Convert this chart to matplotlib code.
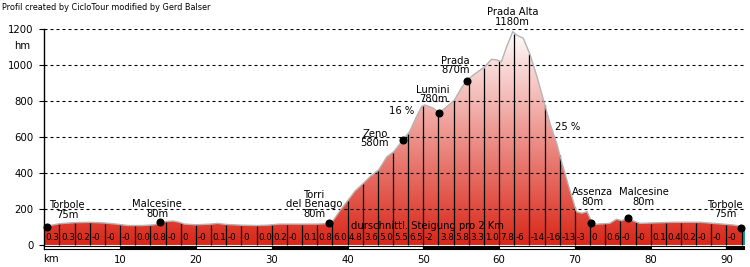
"""
Elevation profile Torbole - Prada Alta - Torbole (CicloTour style)
"""
# ======================================================================================================================
import numpy as np
import matplotlib
matplotlib.use('Agg')
import matplotlib.pyplot as plt
from matplotlib.colors import LinearSegmentedColormap
from matplotlib.patches import Polygon, Rectangle


# ======================================================================================================================
# Data
profile_km = [0, 1, 2, 4, 6, 8, 9.5, 11, 13, 14.5, 15.3, 16, 17, 17.8, 18.5, 20, 22, 22.8, 24, 26, 28, 29.5,
              31, 34, 36, 37.2, 37.7, 38.1, 39, 40.1, 41, 42.1, 43, 44.1, 45.2, 46.1, 47.3, 48.2, 49.1, 49.8,
              50.2, 51.3, 52.1, 53.1, 54.1, 55, 55.7, 56.6, 58.1, 59.0, 59.7, 60.3, 61.0, 61.8, 62.3, 63.2,
              64.1, 65.0, 66.1, 66.7, 67.6, 68.3, 69.2, 70.0, 70.2, 70.9, 71.6, 72.1, 72.7, 74.6, 75.5, 76.2,
              77.0, 77.9, 78.6, 80, 83, 86.5, 88.3, 90.9, 92.3]
profile_m = [102, 110, 118, 124, 126, 122, 116, 108, 108, 112, 122, 130, 133, 126, 116, 112, 116, 120, 114, 110,
             108, 110, 116, 116, 116, 118, 124, 135, 190, 250, 300, 343, 380, 417, 490, 518, 583, 630, 713, 770,
             778, 760, 735, 768, 805, 870, 913, 944, 990, 1032, 1028, 1018, 1102, 1185, 1167, 1148,
             1056, 935, 768, 677, 565, 454, 324, 213, 185, 176, 185, 139, 115, 120, 143, 135,
             150, 130, 120, 122, 126, 126, 120, 111, 100]

# average gradient per 2 km segment
segment_labels = ['0.3', '0.3', '0.2', '-0', '-0', '-0', '0.0', '0.8', '-0', '0',
                  '-0', '0.1', '-0', '0', '0.0', '0.2', '-0', '0.1', '0.8', '6.0',
                  '4.8', '3.6', '5.0', '5.5', '6.5', '-2', '3.8', '5.8', '3.3', '1.0',
                  '7.8', '-6', '-14', '-16', '-13', '-3', '0', '0.6', '-0', '-0',
                  '0.1', '0.4', '0.2', '-0', '-0', '-0']

waypoint_km = [0.3, 15.3, 37.6, 47.3, 52.1, 55.7, 72.1, 77.0, 91.9]
waypoint_m = [102, 129, 124, 583, 735, 913, 124, 152, 93]

label_texts = ['Torbole\n75m', 'Malcesine\n80m', 'Torri\ndel Benago\n80m', 'Zeno\n580m', 'Lumini\n780m',
               'Prada\n870m', 'Prada Alta\n1180m', '16 %', '25 %', 'Assenza\n80m', 'Malcesine\n80m',
               'Torbole\n75m']

y_ticks = [0, 200, 400, 600, 800, 1000, 1200]
x_ticks = [10, 20, 30, 40, 50, 60, 70, 80, 90]

# ======================================================================================================================
# Layout
KM_MAX = 92.4
Y_MIN = -28
Y_MAX = 1200
label_pos = [(3.0, 194), (14.9, 200), (35.6, 225), (43.6, 592), (51.3, 836),
             (54.2, 997), (61.8, 1265), (47.2, 744), (69.1, 658), (72.3, 267), (79.1, 265), (89.8, 196)]
FONT = 7.2

fig = plt.figure(figsize=(7.5, 2.67), dpi=100)
ax = fig.add_axes([0.0591, 0.0637, 0.9338, 0.8277])

km = np.array(profile_km)
m = np.array(profile_m)

# gradient fill clipped to the profile
cmap = LinearSegmentedColormap.from_list('profil', ['#da2618', '#ffffff'])
grad = np.linspace(0, 1, 256).reshape(-1, 1)
im = ax.imshow(grad, extent=[0, km[-1], 0, Y_MAX], origin='lower', cmap=cmap, aspect='auto', zorder=1)
verts = [(0, 0)] + list(zip(km, m)) + [(km[-1], 0)]
patch = Polygon(verts, closed=True, facecolor='none', edgecolor='none', transform=ax.transData)
ax.add_patch(patch)
im.set_clip_path(patch)

# grid
for y in y_ticks[1:]:
    ax.axhline(y, color='black', lw=0.8, ls=(0, (2.7, 2.7)), zorder=2)

# segment separators
seg_x = np.arange(2, km[-1], 2)
ax.vlines(seg_x, 0, np.interp(seg_x, km, m) - 3, color='black', lw=0.9, zorder=3)
ax.vlines(km[-1] - 0.05, 0, m[-1], color='#009090', lw=1.3, zorder=3)

ax.plot(km, m, color='#b4b4b4', lw=1.0, zorder=3)

# segment labels
for i, lab in enumerate(segment_labels):
    ax.text(i * 2 + 0.2, 42, lab, fontsize=6.3, ha='left', va='center', zorder=5)
ax.text(50.5, 108, 'durschnittl. Steigung pro 2 Km', fontsize=FONT, ha='center', va='center', zorder=5)

# km strip
for i in range(int(np.ceil(km[-1] / 10))):
    w = min(10, km[-1] - i * 10)
    ax.add_patch(Rectangle((i * 10, -22), w, 18, facecolor='black' if i % 2 else 'white',
                           edgecolor='black', lw=0.8, zorder=4, clip_on=False))

# waypoints
ax.plot(waypoint_km, waypoint_m, 'o', color='black', ms=4.8, zorder=6, clip_on=False)
for txt, (x, y) in zip(label_texts, label_pos):
    ax.text(x, y, txt, fontsize=FONT, ha='center', va='center', linespacing=0.95, zorder=6)

ax.set_xlim(0, KM_MAX)
ax.set_ylim(Y_MIN, Y_MAX)
for s in ['top', 'right', 'bottom']:
    ax.spines[s].set_visible(False)
ax.spines['left'].set_linewidth(1.0)
ax.spines['left'].set_bounds(Y_MIN + 5, Y_MAX)

ax.set_yticks(y_ticks)
ax.set_yticklabels([str(v) for v in y_ticks])
ax.set_xticks(x_ticks)
ax.set_xticklabels([str(v) for v in x_ticks])
ax.tick_params(axis='y', length=3.6, width=0.8, pad=4, labelsize=7.3)
ax.tick_params(axis='x', length=0, pad=3.5, labelsize=7.3)
ax.text(0.9, -0.041, 'km', transform=ax.get_xaxis_transform(), fontsize=7.3, ha='center', va='center')
ax.text(-0.031, 1105, 'hm', transform=ax.get_yaxis_transform(), fontsize=7.3, ha='center', va='center')

fig.text(2 / 750, 1 - 7 / 267, 'Profil created by CicloTour modified by Gerd Balser', fontsize=5.9,
         ha='left', va='center')

fig.savefig('out.png', dpi=100)
